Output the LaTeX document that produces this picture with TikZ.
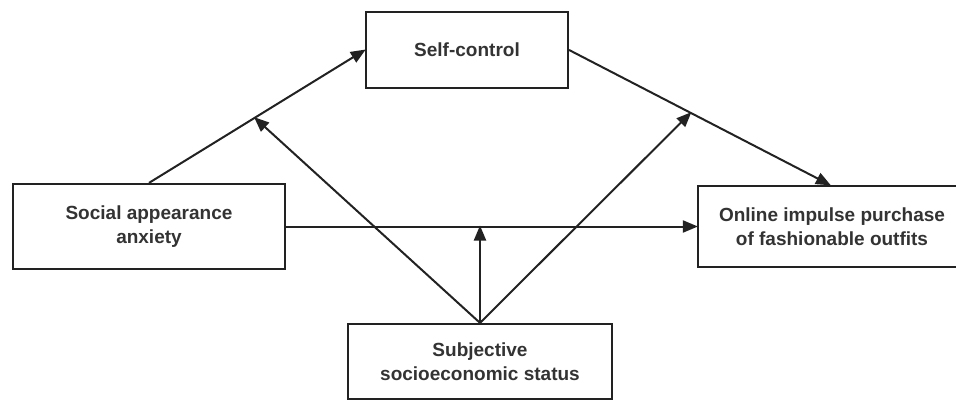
\documentclass[tikz,border=0pt]{standalone}
\usepackage{fontspec}
\setmainfont{Liberation Sans}
\usetikzlibrary{arrows.meta,calc}
\definecolor{ink}{HTML}{222222}
\definecolor{txt}{HTML}{333333}
\tikzset{
  vbox/.style={draw=ink, line width=2.2pt, fill=white, inner sep=0pt, align=center,
    text=txt, font=\fontsize{19}{24.5}\selectfont\bfseries},
  arr/.style={draw=ink, line width=2pt, -{Triangle[length=15pt,width=12pt]}, shorten >=-1pt}
}
\begin{document}
\begin{tikzpicture}[x=1pt,y=-1pt]
\useasboundingbox (0,0) rectangle (956,401);
\node[vbox, minimum width=202pt, minimum height=76pt] (sc) at (467,50) {Self-control};
\node[vbox, minimum width=272pt, minimum height=85pt] (saa) at (149,226.5) {Social appearance\\anxiety};
\node[vbox, minimum width=268pt, minimum height=81pt] (oip) at (832,226.5) {Online impulse purchase\\of fashionable outfits};
\node[vbox, minimum width=264pt, minimum height=75pt] (sss) at (480,361.5) {Subjective\\socioeconomic status};
\coordinate (m1) at ($(saa.north)!0.49!(sc.west)$);
\coordinate (m2) at ($(sc.east)!0.466!($(oip.north)+(-2,0)$)$);
\coordinate (m3) at (sss.north |- saa.east);
\draw[arr] (saa.north) -- (sc.west);
\draw[arr] (sc.east) -- ($(oip.north)+(-2,0)$);
\draw[arr] (saa.east) -- (oip.west);
\draw[arr] (sss.north) -- (m1);
\draw[arr] (sss.north) -- (m2);
\draw[arr] (sss.north) -- (m3);
\end{tikzpicture}
\end{document}
